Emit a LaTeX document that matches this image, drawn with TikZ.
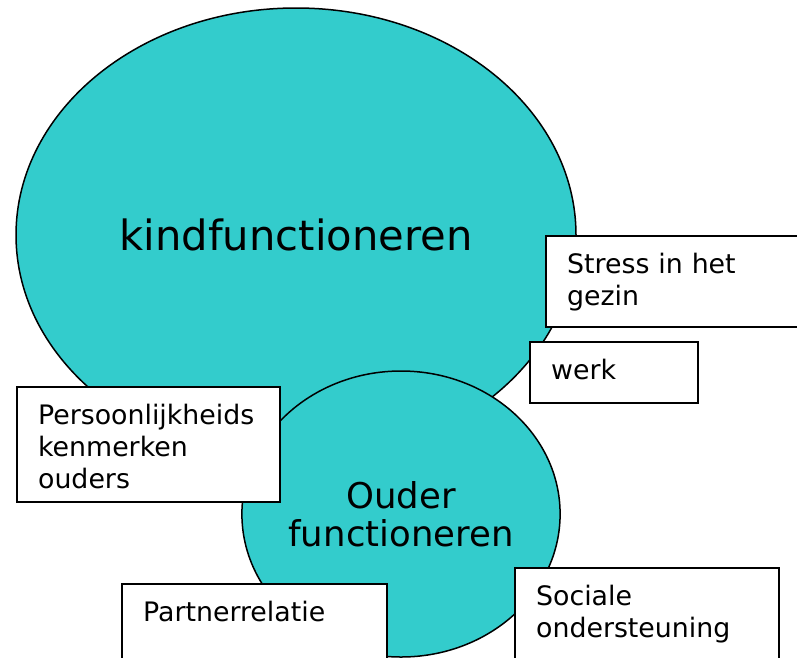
\documentclass[tikz,border=0pt]{standalone}
\usepackage{fontspec}
\setmainfont{DejaVu Sans}
\usetikzlibrary{shapes.geometric}
\definecolor{blobcyan}{HTML}{33CCCC}
\tikzset{
  blob/.style={ellipse, draw=black, line width=1.5pt, fill=blobcyan, inner sep=0pt},
  factor/.style={draw=black, line width=2.2pt, fill=white, anchor=north west,
    align=left, inner xsep=21pt, inner ysep=0pt, text height=37pt,
    font=\fontsize{26.8}{32}\selectfont}
}
\begin{document}
\begin{tikzpicture}[x=1pt, y=-1pt]
  \useasboundingbox (0,0) rectangle (797,657);
  \clip (0,0) rectangle (797,657);
  % de twee ellipsen
  \node[blob, minimum width=560pt, minimum height=454pt,
    font=\fontsize{41.7}{48}\selectfont] (kind) at (296,235) {kindfunctioneren};
  \node[blob, minimum width=318pt, minimum height=286pt, align=center,
    font=\fontsize{35.5}{38}\selectfont] (ouder) at (401,514) {Ouder\\functioneren};
  % de factoren
  \node[factor, text width=211pt, text depth=54pt] (stress) at (545,235) {Stress in het\\gezin};
  \node[factor, text width=126pt, text depth=24pt] (werk) at (529,341) {werk};
  \node[factor, text width=221pt, text depth=78pt] (persoon) at (16,386) {Persoonlijkheids\\kenmerken\\ouders};
  \node[factor, text width=223pt, text depth=83pt] (partner) at (121,583) {Partnerrelatie};
  \node[factor, text width=222pt, text depth=81pt] (sociaal) at (514,567) {Sociale\\ondersteuning};
\end{tikzpicture}
\end{document}
